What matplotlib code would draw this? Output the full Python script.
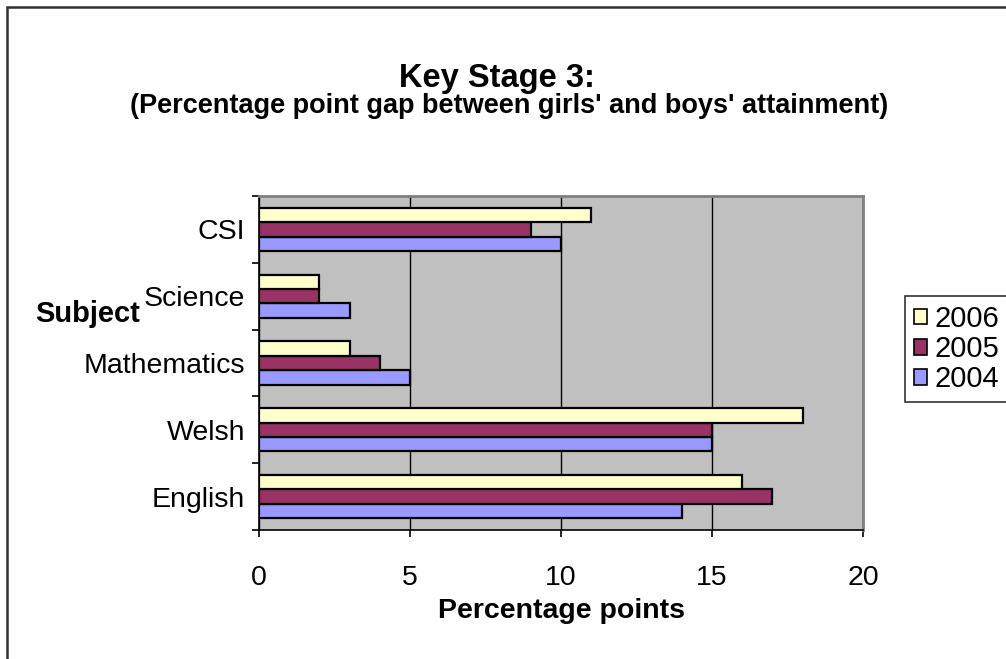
import matplotlib
matplotlib.use("Agg")
import matplotlib.pyplot as plt
from matplotlib.patches import Rectangle, Patch
import numpy as np

plt.rcParams['font.family'] = ['Liberation Sans', 'DejaVu Sans']

subjects = ["English", "Welsh", "Mathematics", "Science", "CSI"]
years = ["2004", "2005", "2006"]
gap_2004 = [14, 15, 5, 3, 10]
gap_2005 = [17, 15, 4, 2, 9]
gap_2006 = [16, 18, 3, 2, 11]
x_ticks = [0, 5, 10, 15, 20]

colors = {"2004": "#9999FF", "2005": "#993366", "2006": "#FFFFCC"}
W, H = 1006, 659
fig = plt.figure(figsize=(W / 100, H / 100), dpi=100)

ax = fig.add_axes([259 / W, 1 - 530 / H, 604 / W, 334 / H])
ax.set_facecolor("#C0C0C0")

y = np.arange(len(subjects))
bh = 0.215
series = [("2004", gap_2004, -bh), ("2005", gap_2005, 0.0), ("2006", gap_2006, bh)]
for name, vals, off in series:
    ax.barh(y + off, vals, height=bh, color=colors[name], edgecolor="black",
            linewidth=1.6, zorder=3, label=name)

ax.set_xlim(0, 20)
ax.set_ylim(-0.5, len(subjects) - 0.5)
ax.set_xticks(x_ticks)
ax.set_xticklabels([str(v) for v in x_ticks])
ax.set_yticks(y)
ax.set_yticklabels(subjects)
ax.set_yticks(np.arange(-0.5, len(subjects), 1.0), minor=True)
ax.tick_params(axis="y", which="major", length=0, pad=10, labelsize=20.5)
ax.tick_params(axis="y", which="minor", length=5, width=1.2, direction="out")
ax.tick_params(axis="x", which="major", length=5, width=1.2, direction="out", pad=20, labelsize=20.5)
ax.xaxis.grid(True, color="black", linewidth=1.0, zorder=1)
ax.set_axisbelow(True)
for s in ["left", "bottom"]:
    ax.spines[s].set_color("black")
    ax.spines[s].set_linewidth(1.2)
for s in ["top", "right"]:
    ax.spines[s].set_color("#808080")
    ax.spines[s].set_linewidth(2)

ax.set_xlabel("Percentage points", fontsize=20.5, fontweight="bold", labelpad=5)

fig.text(497 / W, 1 - 78 / H, "Key Stage 3:", ha="center", va="center",
         fontsize=23.5, fontweight="bold")
fig.text(509 / W, 1 - 106 / H,
         "(Percentage point gap between girls' and boys' attainment)",
         ha="center", va="center", fontsize=19.5, fontweight="bold")
fig.text(35 / W, 1 - 314 / H, "Subject", ha="left", va="center",
         fontsize=21, fontweight="bold")

handles = [Patch(facecolor=colors[n], edgecolor="black", linewidth=1.2) for n in ["2006", "2005", "2004"]]
leg = fig.legend(handles, ["2006", "2005", "2004"], loc="upper left",
                 bbox_to_anchor=(905 / W, 1 - 296 / H), fontsize=21,
                 frameon=True, fancybox=False, edgecolor="black",
                 handlelength=0.45, handleheight=0.45, handletextpad=0.25,
                 labelspacing=0.08, borderpad=0.3, borderaxespad=0)
leg.get_frame().set_linewidth(1.2)

fig.add_artist(Rectangle((7 / W, -0.1), 1.2, (1 - 7 / H) + 0.1, transform=fig.transFigure,
                         fill=False, edgecolor="#303030", linewidth=1.8, clip_on=False))

fig.savefig("out.png", dpi=100, facecolor="white")
